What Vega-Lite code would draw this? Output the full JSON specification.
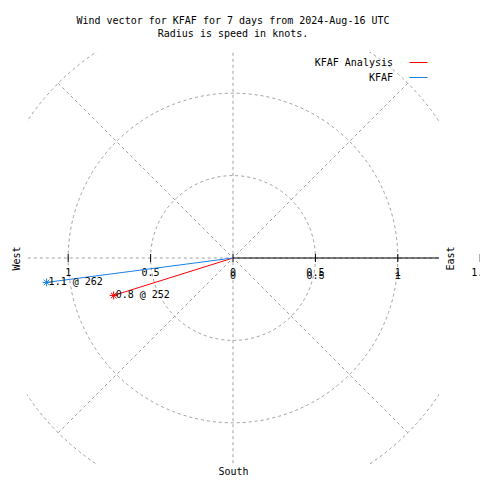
{
  "$schema": "https://vega.github.io/schema/vega-lite/v6.json",
  "width": 412,
  "height": 412,
  "autosize": {"type": "none"},
  "padding": {"left": 27, "top": 52, "right": 41, "bottom": 16},
  "background": "white",
  "title": {
    "text": ["Wind vector for KFAF for 7 days from 2024-Aug-16 UTC", "Radius is speed in knots."],
    "font": "DejaVu Sans Mono",
    "fontSize": 10,
    "fontWeight": "normal",
    "color": "black",
    "anchor": "middle",
    "frame": "group",
    "offset": 13,
    "lineHeight": 13
  },
  "config": {
    "view": {"stroke": null},
    "font": "DejaVu Sans Mono",
    "axis": {"titleFont": "DejaVu Sans Mono", "titleFontSize": 10, "titleFontWeight": "normal", "titleColor": "black"}
  },
  "datasets": {
    "circles": [{"r": 0.5}, {"r": 1}, {"r": 1.5}],
    "spokes": [
      {"x": 1.5, "y": 0},
      {"x": 1.0607, "y": 1.0607},
      {"x": 0, "y": 1.5},
      {"x": -1.0607, "y": 1.0607},
      {"x": -1.5, "y": 0},
      {"x": -1.0607, "y": -1.0607},
      {"x": 0, "y": -1.5},
      {"x": 1.0607, "y": -1.0607}
    ],
    "axisline": [{"from": 0, "to": 1.5, "level": 0}],
    "ticks": [
      {"t": -1, "label": "1"},
      {"t": -0.5, "label": "0.5"},
      {"t": 0, "label": "0"},
      {"t": 0.5, "label": "0.5"},
      {"t": 1, "label": "1"},
      {"t": 1.5, "label": "1.5"}
    ],
    "vectors": [
      {"series": "KFAF Analysis", "u": -0.724, "v": -0.227, "label": "0.8 @ 252"},
      {"series": "KFAF", "u": -1.131, "v": -0.148, "label": "1.1 @ 262"}
    ]
  },
  "resolve": {"axis": {"x": "independent", "y": "independent"}},
  "layer": [
    {
      "data": {"name": "circles"},
      "mark": {"type": "point", "shape": "circle", "filled": false, "stroke": "#a0a0a0", "strokeWidth": 1, "strokeDash": [3, 3], "opacity": 1, "clip": true},
      "encoding": {
        "x": {"datum": 0, "type": "quantitative", "scale": {"domain": [-1.25, 1.25], "nice": false, "zero": false},
              "axis": {"title": "South", "orient": "bottom", "labels": false, "ticks": false, "domain": false, "grid": false, "titlePadding": 2}},
        "y": {"datum": 0, "type": "quantitative", "scale": {"domain": [-1.25, 1.25], "nice": false, "zero": false},
              "axis": {"title": "West", "orient": "left", "labels": false, "ticks": false, "domain": false, "grid": false, "titlePadding": 6}},
        "size": {"field": "r", "type": "quantitative", "scale": {"type": "pow", "exponent": 2, "domain": [0, 1.25], "range": [0, 169744]}, "legend": null}
      }
    },
    {
      "data": {"name": "spokes"},
      "mark": {"type": "rule", "stroke": "#a0a0a0", "strokeWidth": 1, "strokeDash": [3, 3], "clip": true},
      "encoding": {
        "x": {"field": "x", "type": "quantitative", "scale": {"domain": [-1.25, 1.25], "nice": false, "zero": false}, "axis": null},
        "y": {"field": "y", "type": "quantitative", "scale": {"domain": [-1.25, 1.25], "nice": false, "zero": false},
              "axis": {"title": "East", "orient": "right", "labels": false, "ticks": false, "domain": false, "grid": false, "titleAngle": 270, "titleBaseline": "top", "titlePadding": 6}},
        "x2": {"datum": 0},
        "y2": {"datum": 0}
      }
    },
    {
      "data": {"name": "axisline"},
      "mark": {"type": "rule", "stroke": "black", "strokeWidth": 1, "clip": true},
      "encoding": {
        "x": {"field": "from", "type": "quantitative", "scale": {"domain": [-1.25, 1.25], "nice": false, "zero": false}, "axis": null},
        "x2": {"field": "to"},
        "y": {"field": "level", "type": "quantitative", "scale": {"domain": [-1.25, 1.25], "nice": false, "zero": false}, "axis": null}
      }
    },
    {
      "data": {"name": "ticks"},
      "mark": {"type": "point", "shape": "M0,-1V1", "filled": false, "stroke": "black", "strokeWidth": 1, "size": 64, "opacity": 1},
      "encoding": {
        "x": {"field": "t", "type": "quantitative", "scale": {"domain": [-1.25, 1.25], "nice": false, "zero": false}, "axis": null},
        "y": {"datum": 0, "type": "quantitative", "scale": {"domain": [-1.25, 1.25], "nice": false, "zero": false}, "axis": null}
      }
    },
    {
      "data": {"name": "ticks"},
      "mark": {"type": "text", "font": "DejaVu Sans Mono", "fontSize": 10, "color": "black", "align": "center", "baseline": "middle", "dy": 15},
      "encoding": {
        "x": {"field": "t", "type": "quantitative", "scale": {"domain": [-1.25, 1.25], "nice": false, "zero": false}, "axis": null},
        "y": {"datum": 0, "type": "quantitative", "scale": {"domain": [-1.25, 1.25], "nice": false, "zero": false}, "axis": null},
        "text": {"field": "label"}
      }
    },
    {
      "data": {"name": "ticks"},
      "transform": [{"filter": "datum.t >= 0 && datum.t <= 1"}],
      "mark": {"type": "text", "font": "Liberation Mono", "fontSize": 10, "color": "black", "align": "center", "baseline": "middle", "dy": 18},
      "encoding": {
        "x": {"field": "t", "type": "quantitative", "scale": {"domain": [-1.25, 1.25], "nice": false, "zero": false}, "axis": null},
        "y": {"datum": 0, "type": "quantitative", "scale": {"domain": [-1.25, 1.25], "nice": false, "zero": false}, "axis": null},
        "text": {"field": "label"}
      }
    },
    {
      "data": {"name": "vectors"},
      "mark": {"type": "rule", "strokeWidth": 1},
      "encoding": {
        "x": {"field": "u", "type": "quantitative", "scale": {"domain": [-1.25, 1.25], "nice": false, "zero": false}, "axis": null},
        "y": {"field": "v", "type": "quantitative", "scale": {"domain": [-1.25, 1.25], "nice": false, "zero": false}, "axis": null},
        "x2": {"datum": 0},
        "y2": {"datum": 0},
        "color": {
          "field": "series", "type": "nominal",
          "scale": {"domain": ["KFAF Analysis", "KFAF"], "range": ["#ff0000", "#1a80e5"]},
          "legend": {
            "title": null, "orient": "none", "legendX": 382, "legendY": 1,
            "symbolType": "stroke", "symbolSize": 324, "symbolStrokeWidth": 1,
            "labelAlign": "right", "labelOffset": -35, "labelFont": "DejaVu Sans Mono", "labelFontSize": 10, "labelColor": "black",
            "rowPadding": 0, "padding": 0
          }
        }
      }
    },
    {
      "data": {"name": "vectors"},
      "mark": {"type": "point", "shape": "M-1,0H1M0,-1V1M-0.7,-0.7L0.7,0.7M-0.7,0.7L0.7,-0.7", "filled": false, "strokeWidth": 1, "size": 64, "opacity": 1},
      "encoding": {
        "x": {"field": "u", "type": "quantitative", "scale": {"domain": [-1.25, 1.25], "nice": false, "zero": false}, "axis": null},
        "y": {"field": "v", "type": "quantitative", "scale": {"domain": [-1.25, 1.25], "nice": false, "zero": false}, "axis": null},
        "color": {"field": "series", "type": "nominal", "scale": {"domain": ["KFAF Analysis", "KFAF"], "range": ["#ff0000", "#1a80e5"]}, "legend": null}
      }
    },
    {
      "data": {"name": "vectors"},
      "mark": {"type": "text", "font": "DejaVu Sans Mono", "fontSize": 10, "color": "black", "align": "left", "baseline": "middle", "dx": 2},
      "encoding": {
        "x": {"field": "u", "type": "quantitative", "scale": {"domain": [-1.25, 1.25], "nice": false, "zero": false}, "axis": null},
        "y": {"field": "v", "type": "quantitative", "scale": {"domain": [-1.25, 1.25], "nice": false, "zero": false}, "axis": null},
        "text": {"field": "label"}
      }
    }
  ]
}
